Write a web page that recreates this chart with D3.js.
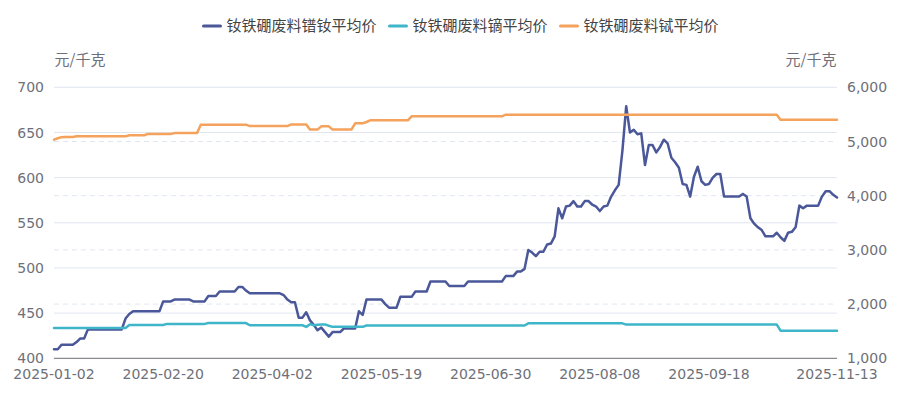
<!DOCTYPE html>
<html>
<head>
<meta charset="utf-8">
<script src="https://cdn.jsdelivr.net/npm/d3@7"></script>
<style>
  body { margin: 0; background: #fff; }
  svg { display: block; }
</style>
</head>
<body>
<svg id="chart"></svg>
<script>
// trading days shown on the category axis
const dates = [
  "2025-01-02","2025-01-03","2025-01-06","2025-01-07","2025-01-08","2025-01-09","2025-01-10","2025-01-13","2025-01-14","2025-01-15",
  "2025-01-16","2025-01-17","2025-01-20","2025-01-21","2025-01-22","2025-01-23","2025-01-24","2025-01-27","2025-02-05","2025-02-06",
  "2025-02-07","2025-02-10","2025-02-11","2025-02-12","2025-02-13","2025-02-14","2025-02-17","2025-02-18","2025-02-19","2025-02-20",
  "2025-02-21","2025-02-24","2025-02-25","2025-02-26","2025-02-27","2025-02-28","2025-03-03","2025-03-04","2025-03-05","2025-03-06",
  "2025-03-07","2025-03-10","2025-03-11","2025-03-12","2025-03-13","2025-03-14","2025-03-17","2025-03-18","2025-03-19","2025-03-20",
  "2025-03-21","2025-03-24","2025-03-25","2025-03-26","2025-03-27","2025-03-28","2025-03-31","2025-04-01","2025-04-02","2025-04-03",
  "2025-04-07","2025-04-08","2025-04-09","2025-04-10","2025-04-11","2025-04-14","2025-04-15","2025-04-16","2025-04-17","2025-04-18",
  "2025-04-21","2025-04-22","2025-04-23","2025-04-24","2025-04-25","2025-04-28","2025-04-29","2025-04-30","2025-05-06","2025-05-07",
  "2025-05-08","2025-05-09","2025-05-12","2025-05-13","2025-05-14","2025-05-15","2025-05-16","2025-05-19","2025-05-20","2025-05-21",
  "2025-05-22","2025-05-23","2025-05-26","2025-05-27","2025-05-28","2025-05-29","2025-05-30","2025-06-03","2025-06-04","2025-06-05",
  "2025-06-06","2025-06-09","2025-06-10","2025-06-11","2025-06-12","2025-06-13","2025-06-16","2025-06-17","2025-06-18","2025-06-19",
  "2025-06-20","2025-06-23","2025-06-24","2025-06-25","2025-06-26","2025-06-27","2025-06-30","2025-07-01","2025-07-02","2025-07-03",
  "2025-07-04","2025-07-07","2025-07-08","2025-07-09","2025-07-10","2025-07-11","2025-07-14","2025-07-15","2025-07-16","2025-07-17",
  "2025-07-18","2025-07-21","2025-07-22","2025-07-23","2025-07-24","2025-07-25","2025-07-28","2025-07-29","2025-07-30","2025-07-31",
  "2025-08-01","2025-08-04","2025-08-05","2025-08-06","2025-08-07","2025-08-08","2025-08-11","2025-08-12","2025-08-13","2025-08-14",
  "2025-08-15","2025-08-18","2025-08-19","2025-08-20","2025-08-21","2025-08-22","2025-08-25","2025-08-26","2025-08-27","2025-08-28",
  "2025-08-29","2025-09-01","2025-09-02","2025-09-03","2025-09-04","2025-09-05","2025-09-08","2025-09-09","2025-09-10","2025-09-11",
  "2025-09-12","2025-09-15","2025-09-16","2025-09-17","2025-09-18","2025-09-19","2025-09-22","2025-09-23","2025-09-24","2025-09-25",
  "2025-09-26","2025-09-29","2025-09-30","2025-10-09","2025-10-10","2025-10-13","2025-10-14","2025-10-15","2025-10-16","2025-10-17",
  "2025-10-20","2025-10-21","2025-10-22","2025-10-23","2025-10-24","2025-10-27","2025-10-28","2025-10-29","2025-10-30","2025-10-31",
  "2025-11-03","2025-11-04","2025-11-05","2025-11-06","2025-11-07","2025-11-10","2025-11-11","2025-11-12","2025-11-13"
]

// 钕铁硼废料镨钕平均价 (left axis)
const prndPrice = [
  410,410,415,415,415,415,418,422,422,432,
  432,432,432,432,432,432,432,432,432,444,
  449,452,452,452,452,452,452,452,452,463,
  463,463,465,465,465,465,465,463,463,463,
  463,469,469,469,474,474,474,474,474,479,
  479,475,472,472,472,472,472,472,472,472,
  472,470,465,462,462,445,445,451,442,437,
  431,434,429,424,429,429,429,433,433,433,
  433,452,448,465,465,465,465,465,460,456,
  456,456,468,468,468,468,474,474,474,474,
  485,485,485,485,485,480,480,480,480,480,
  485,485,485,485,485,485,485,485,485,485,
  491,491,491,496,496,499,520,517,513,518,
  518,526,527,535,566,555,568,569,574,568,
  568,574,574,570,568,563,568,569,579,586,
  592,630,679,650,653,648,649,614,636,636,
  628,634,642,638,622,617,611,593,592,579,
  601,612,596,592,593,600,604,604,579,579,
  579,579,579,582,579,555,549,545,542,535,
  535,535,539,534,530,539,540,545,569,566,
  569,569,569,569,579,585,585,581,578
]

// 钕铁硼废料镝平均价 (right axis)
const dyPrice = [
  1560,1560,1560,1560,1560,1560,1560,1560,1560,1560,
  1560,1560,1560,1560,1560,1560,1560,1560,1560,1560,
  1615,1615,1615,1615,1615,1615,1615,1615,1615,1615,
  1635,1635,1635,1635,1635,1635,1635,1635,1635,1635,
  1635,1650,1650,1650,1650,1650,1650,1650,1650,1650,
  1650,1650,1610,1610,1610,1610,1610,1610,1610,1610,
  1610,1610,1610,1610,1610,1610,1610,1580,1630,1610,
  1620,1625,1625,1600,1580,1580,1580,1580,1580,1580,
  1580,1580,1580,1605,1605,1605,1605,1605,1605,1605,
  1605,1605,1605,1605,1605,1605,1605,1605,1605,1605,
  1605,1605,1605,1605,1605,1605,1605,1605,1605,1605,
  1605,1605,1605,1605,1605,1605,1605,1605,1605,1605,
  1605,1605,1605,1605,1605,1605,1645,1645,1645,1645,
  1645,1645,1645,1645,1645,1645,1645,1645,1645,1645,
  1645,1645,1645,1645,1645,1645,1645,1645,1645,1645,
  1645,1645,1622,1622,1622,1622,1622,1622,1622,1622,
  1622,1622,1622,1622,1622,1622,1622,1622,1622,1622,
  1622,1622,1622,1622,1622,1622,1622,1622,1622,1622,
  1622,1622,1622,1622,1622,1622,1622,1622,1622,1622,
  1622,1622,1622,1510,1510,1510,1510,1510,1510,1510,
  1510,1510,1510,1510,1510,1510,1510,1510,1510
]

// 钕铁硼废料铽平均价 (right axis)
const tbPrice = [
  5035,5060,5080,5085,5085,5085,5095,5095,5095,5095,
  5095,5095,5095,5095,5095,5095,5095,5095,5095,5095,
  5115,5115,5115,5115,5115,5140,5140,5140,5140,5140,
  5140,5140,5155,5155,5155,5155,5155,5155,5155,5310,
  5310,5310,5310,5310,5310,5310,5310,5310,5310,5310,
  5310,5310,5285,5285,5285,5285,5285,5285,5285,5285,
  5285,5285,5285,5315,5315,5315,5315,5315,5220,5220,
  5220,5280,5280,5280,5220,5220,5220,5220,5220,5220,
  5335,5335,5335,5360,5390,5390,5390,5390,5390,5390,
  5390,5390,5390,5390,5390,5465,5465,5465,5465,5465,
  5465,5465,5465,5465,5465,5465,5465,5465,5465,5465,
  5465,5465,5465,5465,5465,5465,5465,5465,5465,5465,
  5495,5495,5495,5495,5495,5495,5495,5495,5495,5495,
  5495,5495,5495,5495,5495,5495,5495,5495,5495,5495,
  5495,5495,5495,5495,5495,5495,5495,5495,5495,5495,
  5495,5495,5495,5495,5495,5495,5495,5495,5495,5495,
  5495,5495,5495,5495,5495,5495,5495,5495,5495,5495,
  5495,5495,5495,5495,5495,5495,5495,5495,5495,5495,
  5495,5495,5495,5495,5495,5495,5495,5495,5495,5495,
  5495,5495,5495,5400,5400,5400,5400,5400,5400,5400,
  5400,5400,5400,5400,5400,5400,5400,5400,5400
]

const seriesNames = ["钕铁硼废料镨钕平均价", "钕铁硼废料镝平均价", "钕铁硼废料铽平均价"]
const leftTicks = [400, 450, 500, 550, 600, 650, 700]
const rightTicks = [1000, 2000, 3000, 4000, 5000, 6000]
const unitName = "元/千克"

const width = 922
const height = 396
const colors = ["#4a5799", "#3fb5c9", "#f4a25c"]
const numFont = "'DejaVu Sans', sans-serif"
const cjkFont = "'Noto Sans CJK SC', sans-serif"

const svg = d3.select("#chart").attr("width", width).attr("height", height)

const x = d3.scalePoint().domain(dates).range([54, 837])
const yLeft = d3.scaleLinear().domain([400, 700]).range([358.3, 87.3])
const yRight = d3.scaleLinear().domain([1000, 6000]).range([358.3, 87.3])

// grid: solid for left axis, dashed for right axis
svg.append("g")
  .selectAll("line")
  .data(leftTicks.slice(1))
  .join("line")
  .attr("x1", 54).attr("x2", 837)
  .attr("y1", d => yLeft(d)).attr("y2", d => yLeft(d))
  .attr("stroke", "#e0e6f1")
  .attr("stroke-width", 1)

svg.append("g")
  .selectAll("line")
  .data(rightTicks.slice(1, -1))
  .join("line")
  .attr("x1", 54).attr("x2", 837)
  .attr("y1", d => yRight(d)).attr("y2", d => yRight(d))
  .attr("stroke", "#e0e6f1")
  .attr("stroke-dasharray", "5,4")
  .attr("stroke-width", 1)

// left axis labels
svg.append("g")
  .selectAll("text")
  .data(leftTicks)
  .join("text")
  .attr("x", 44)
  .attr("y", d => yLeft(d))
  .attr("dy", "0.36em")
  .attr("text-anchor", "end")
  .style("font", `14px ${numFont}`)
  .attr("fill", "#6e7079")
  .text(d => d)

// right axis labels
svg.append("g")
  .selectAll("text")
  .data(rightTicks)
  .join("text")
  .attr("x", 847)
  .attr("y", d => yRight(d))
  .attr("dy", "0.36em")
  .attr("text-anchor", "start")
  .style("font", `14px ${numFont}`)
  .attr("fill", "#6e7079")
  .text(d => d3.format(",")(d))

// x axis line + labels every 29 trading days, plus the last one
svg.append("line")
  .attr("x1", 54).attr("x2", 837)
  .attr("y1", 358.3).attr("y2", 358.3)
  .attr("stroke", "#6e7079")

const shownDates = dates.filter((d, i) => (i % 29 === 0 && dates.length - 1 - i > 10) || i === dates.length - 1)
svg.append("g")
  .selectAll("text")
  .data(shownDates)
  .join("text")
  .attr("x", d => x(d))
  .attr("y", 374)
  .attr("dy", "0.36em")
  .attr("text-anchor", "middle")
  .style("font", `14px ${numFont}`)
  .attr("fill", "#6e7079")
  .text(d => d)

// unit names
svg.append("text")
  .attr("x", 80).attr("y", 60).attr("dy", "0.36em")
  .attr("text-anchor", "middle")
  .style("font", `15px ${cjkFont}`)
  .attr("fill", "#6e7079")
  .text(unitName)
svg.append("text")
  .attr("x", 811).attr("y", 60).attr("dy", "0.36em")
  .attr("text-anchor", "middle")
  .style("font", `15px ${cjkFont}`)
  .attr("fill", "#6e7079")
  .text(unitName)

// lines
const seriesList = [
  { values: prndPrice, y: yLeft },
  { values: dyPrice, y: yRight },
  { values: tbPrice, y: yRight }
]
seriesList.forEach((s, k) => {
  const line = d3.line()
    .x((d, i) => x(dates[i]))
    .y(d => s.y(d))
  svg.append("path")
    .datum(s.values)
    .attr("d", line)
    .attr("fill", "none")
    .attr("stroke", colors[k])
    .attr("stroke-width", 2.5)
    .attr("stroke-linejoin", "round")
    .attr("stroke-linecap", "round")
})

// legend, centred at the top
const legend = svg.append("g")
const items = legend.selectAll("g")
  .data(seriesNames)
  .join("g")
items.append("line")
  .attr("x1", 0).attr("x2", 17)
  .attr("y1", 26).attr("y2", 26)
  .attr("stroke", (d, i) => colors[i])
  .attr("stroke-width", 3)
  .attr("stroke-linecap", "round")
items.append("text")
  .attr("x", 23).attr("y", 26).attr("dy", "0.36em")
  .style("font", `15px ${cjkFont}`)
  .attr("fill", "#444")
  .text(d => d)

let offset = 0
const positions = []
items.each(function () {
  const w = 23 + this.querySelector("text").getComputedTextLength()
  positions.push(offset)
  offset += w + 13
})
const total = offset - 13
const start = width / 2 - total / 2
items.attr("transform", (d, i) => `translate(${start + positions[i]},0)`)
</script>
</body>
</html>
